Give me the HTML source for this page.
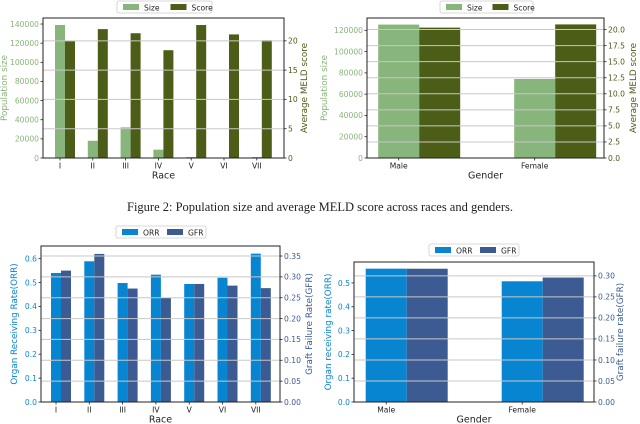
<!DOCTYPE html>
<html><head><meta charset="utf-8">
<style>
html,body{margin:0;padding:0;background:#fff;}
svg{display:block;font-family:"DejaVu Sans","Liberation Sans",sans-serif;}
</style></head>
<body>
<svg id="fig" width="640" height="424" viewBox="0 0 640 424">
<text x="320" y="211" text-anchor="middle" font-family="Liberation Serif, serif" font-size="12.5" fill="#222">Figure 2: Population size and average MELD score across races and genders.</text>
</svg>
<script>
// ---- Data ----
const raceCats = ["I","II","III","IV","V","VI","VII"];
const genderCats = ["Male","Female"];
const raceSize = [139000,18000,32000,8700,1000,300,1000];
const raceScore = [20.0,22.0,21.3,18.4,22.7,21.1,20.1];
const genderSize = [125400,74300];
const genderScore = [20.3,20.8];
const raceORR = [0.540,0.589,0.498,0.533,0.494,0.520,0.621];
const raceGFR = [0.315,0.355,0.272,0.250,0.283,0.279,0.273];
const genderORR = [0.560,0.507];
const genderGFR = [0.317,0.296];
const ticksSizeRace = [0,20000,40000,60000,80000,100000,120000,140000];
const ticksScoreRace = [0,5,10,15,20];
const ticksSizeGender = [0,20000,40000,60000,80000,100000,120000];
const ticksScoreGender = [0,2.5,5,7.5,10,12.5,15,17.5,20];
const ticksORRRace = [0,0.1,0.2,0.3,0.4,0.5,0.6];
const ticksGFR = [0,0.05,0.1,0.15,0.2,0.25,0.3,0.35];
const ticksORRGender = [0,0.1,0.2,0.3,0.4,0.5];
const ticksGFRGender = [0,0.05,0.1,0.15,0.2,0.25,0.3];

const NS="http://www.w3.org/2000/svg";
const svg=document.getElementById('fig');
const TF=7.6;
function mk(tag,attrs,parent,text){
  const e=document.createElementNS(NS,tag);
  for(const k in attrs)e.setAttribute(k,attrs[k]);
  if(text!==undefined)e.textContent=text;
  (parent||svg).appendChild(e);return e;
}
function drawChart(c){
  const g=mk('g',{});
  
  
  const yL=v=>c.y1-(v/c.lmax)*(c.y1-c.y0);
  const yR=v=>c.y1-(v/c.rmax)*(c.y1-c.y0);
  const xC=i=>c.xc0+i*c.xstep;
  c.cats.forEach((cat,i)=>{
    const b1=mk('rect',{x:xC(i)-c.bw/2,y:yL(c.s1[i]),width:c.bw,height:c.y1-yL(c.s1[i]),fill:c.c1},g);
    
    
    const b2=mk('rect',{x:xC(i)+c.bw/2,y:yR(c.s2[i]),width:c.bw,height:c.y1-yR(c.s2[i]),fill:c.c2},g);
    
    
    const t=mk('text',{x:xC(i),y:c.y1+10.5,'text-anchor':'middle','font-size':TF,fill:'#222'},g,cat);
    
    
    mk('line',{x1:xC(i),x2:xC(i),y1:c.y1,y2:c.y1+2.5,stroke:'#222','stroke-width':0.8},g);
  });
  c.rt.forEach(v=>{
    const gl=mk('line',{x1:c.x0,x2:c.x1,y1:yR(v),y2:yR(v),stroke:'#c8c8c8','stroke-width':1},g);
    
    
    mk('line',{x1:c.x1,x2:c.x1+2.5,y1:yR(v),y2:yR(v),stroke:'#222','stroke-width':0.8},g);
    const t=mk('text',{x:c.x1+4,y:yR(v)+2.8,'font-size':TF,fill:c.rc},g,c.rfmt(v));
    
    
  });
  c.lt.forEach(v=>{
    mk('line',{x1:c.x0-2.5,x2:c.x0,y1:yL(v),y2:yL(v),stroke:'#222','stroke-width':0.8},g);
    const t=mk('text',{x:c.x0-4,y:yL(v)+2.8,'text-anchor':'end','font-size':TF,fill:c.lc},g,c.lfmt(v));
    
    
  });
  const fr=mk('rect',{x:c.x0,y:c.y0,width:c.x1-c.x0,height:c.y1-c.y0,fill:'none',stroke:'#222','stroke-width':1},g);
  
  
  const xl=mk('text',{x:(c.x0+c.x1)/2,y:c.y1+20.5,'text-anchor':'middle','font-size':9.5,fill:'#222'},g,c.xlabel);
  
  
  const ym=(c.y0+c.y1)/2;
  const yl=mk('text',{x:c.lx,y:ym,'text-anchor':'middle','font-size':8.8,fill:c.lc,transform:`rotate(-90 ${c.lx} ${ym})`},g,c.llabel);
  
  
  const yr=mk('text',{x:c.rx,y:ym,'text-anchor':'middle','font-size':8.8,fill:c.rc,transform:`rotate(90 ${c.rx} ${ym})`},g,c.rlabel);
  yr.setAttribute('transform',`rotate(-90 ${c.rx} ${ym})`);
  
  
  const L=c.leg;
  const lg=mk('g',{},g);
  
  
  mk('rect',{x:L.x,y:L.y,width:L.w,height:12,fill:'#fff',stroke:'#ccc','stroke-width':0.8,rx:2},lg);
  mk('rect',{x:L.x+6,y:L.y+3,width:16,height:6,fill:c.c1},lg);
  const e1=mk('text',{x:L.x+27,y:L.y+9.3,'font-size':TF,fill:'#222'},lg,c.n1);
  
  
  mk('rect',{x:L.x+L.w/2+6,y:L.y+3,width:16,height:6,fill:c.c2},lg);
  const e2=mk('text',{x:L.x+L.w/2+27,y:L.y+9.3,'font-size':TF,fill:'#222'},lg,c.n2);
  
  
}
const GL='#88b57b',GD='#4b5d16',BL='#0885d1',BD='#3b5b92';
drawChart({name:'chart-race-size-score',cats:raceCats,s1:raceSize,s2:raceScore,n1:'Size',n2:'Score',c1:GL,c2:GD,
  x0:43,x1:284,y0:18,y1:158,lmax:146300,rmax:23.9,xc0:60,xstep:32.8,bw:10,
  lt:ticksSizeRace,rt:ticksScoreRace,lfmt:v=>String(v),rfmt:v=>String(v),lc:GL,rc:GD,
  xlabel:'Race',llabel:'Population size',rlabel:'Average MELD score',lx:7,rx:307,leg:{x:117,y:1,w:95}});
drawChart({name:'chart-gender-size-score',cats:genderCats,s1:genderSize,s2:genderScore,n1:'Size',n2:'Score',c1:GL,c2:GD,
  x0:367,x1:604,y0:18,y1:158,lmax:131600,rmax:21.8,xc0:398.7,xstep:136,bw:41,
  lt:ticksSizeGender,rt:ticksScoreGender,lfmt:v=>String(v),rfmt:v=>v.toFixed(1),lc:GL,rc:GD,
  xlabel:'Gender',llabel:'Population size',rlabel:'Average MELD score',lx:327,rx:636,leg:{x:440,y:1,w:93}});
drawChart({name:'chart-race-orr-gfr',cats:raceCats,s1:raceORR,s2:raceGFR,n1:'ORR',n2:'GFR',c1:BL,c2:BD,
  x0:41,x1:280,y0:246,y1:402,lmax:0.653,rmax:0.374,xc0:56,xstep:33.3,bw:10,
  lt:ticksORRRace,rt:ticksGFR,lfmt:v=>v.toFixed(1),rfmt:v=>v.toFixed(2),lc:BL,rc:BD,
  xlabel:'Race',llabel:'Organ Receiving Rate(ORR)',rlabel:'Graft Failure Rate(GFR)',lx:17,rx:312,leg:{x:116,y:226,w:90}});
drawChart({name:'chart-gender-orr-gfr',cats:genderCats,s1:genderORR,s2:genderGFR,n1:'ORR',n2:'GFR',c1:BL,c2:BD,
  x0:354,x1:594,y0:262,y1:402,lmax:0.588,rmax:0.333,xc0:386.2,xstep:136,bw:41,
  lt:ticksORRGender,rt:ticksGFRGender,lfmt:v=>v.toFixed(1),rfmt:v=>v.toFixed(2),lc:BL,rc:BD,
  xlabel:'Gender',llabel:'Organ receiving rate(ORR)',rlabel:'Graft failure rate(GFR)',lx:331,rx:623,leg:{x:429,y:244,w:90}});
</script>
</body></html>
